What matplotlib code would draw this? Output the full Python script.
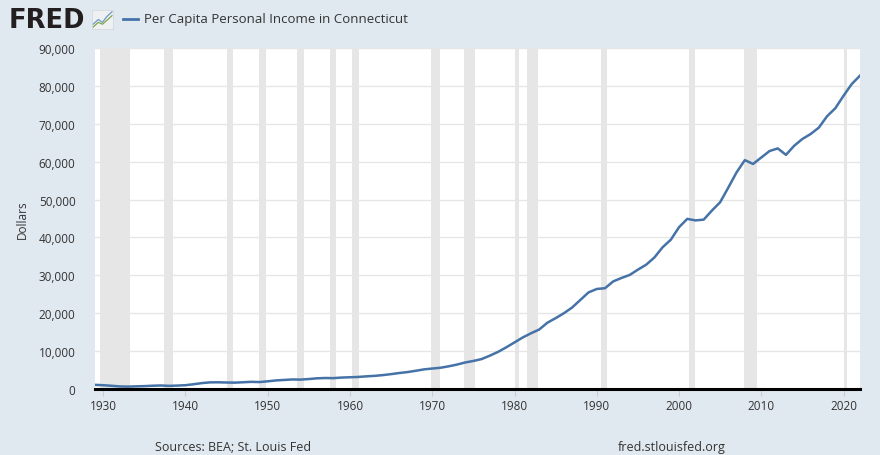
import numpy as np
import matplotlib
matplotlib.use('Agg')
import matplotlib.pyplot as plt

plt.rcParams['font.family'] = ['Open Sans', 'DejaVu Sans']

# ── Data ───────────────────────────────────────────────────────────
years = list(range(1929, 2023))
income = [
    1100, 1000, 850, 680, 630, 700, 760, 860, 930, 830,        # 1929-1938
    900, 1000, 1260, 1560, 1750, 1770, 1710, 1680, 1780, 1890,  # 1939-1948
    1830, 2030, 2260, 2390, 2520, 2480, 2630, 2820, 2900, 2870,  # 1949-1958
    3020, 3100, 3180, 3340, 3470, 3670, 3930, 4220, 4470, 4810,  # 1959-1968
    5180, 5400, 5610, 5990, 6440, 7000, 7400, 7900, 8800, 9800,  # 1969-1978
    11000, 12300, 13600, 14700, 15700, 17500, 18700, 20000, 21500, 23500,  # 1979-1988
    25500, 26400, 26600, 28400, 29300, 30100, 31500, 32800, 34700, 37400,  # 1989-1998
    39400, 42700, 44900, 44500, 44700, 47100, 49300, 53200, 57200, 60400,  # 1999-2008
    59400, 61100, 62800, 63500, 61800, 64200, 66000, 67300, 69000, 72000,  # 2009-2018
    74100, 77400, 80500, 82700,                                            # 2019-2022
]

# NBER recessions (decimal years)
rec_start = [1929.6, 1937.4, 1945.1, 1948.9, 1953.5, 1957.6, 1960.3, 1969.9,
             1973.9, 1980.0, 1981.5, 1990.5, 2001.2, 2007.9, 2020.1]
rec_end   = [1933.2, 1938.5, 1945.8, 1949.8, 1954.4, 1958.3, 1961.1, 1970.9,
             1975.2, 1980.5, 1982.9, 1991.2, 2001.9, 2009.5, 2020.4]

yticks = list(range(0, 90001, 10000))
xticks = list(range(1930, 2021, 10))

BG = '#e1e9f0'
LINE = '#4572a7'

# ── Plot ───────────────────────────────────────────────────────────
fig = plt.figure(figsize=(8.8, 4.56), dpi=100, facecolor=BG)
ax = fig.add_axes([95 / 880, 66 / 456, 765 / 880, 341 / 456])
ax.set_facecolor('white')

for s, e in zip(rec_start, rec_end):
    ax.axvspan(s, e, color='#e6e6e6', lw=0, zorder=1)

ax.plot(years, income, color=LINE, lw=1.8, zorder=4, solid_joinstyle='round')

ax.set_xlim(1929, 2022)
ax.set_ylim(0, 90000)
ax.set_yticks(yticks)
ax.set_yticklabels([f'{v:,}' for v in yticks])
ax.set_xticks(xticks)
ax.grid(axis='y', color='#e6e6e6', lw=1.0, zorder=0)
ax.set_axisbelow(True)

for side in ('top', 'right', 'left'):
    ax.spines[side].set_visible(False)
ax.spines['bottom'].set_color('black')
ax.spines['bottom'].set_linewidth(2.2)
ax.spines['bottom'].set_zorder(6)

ax.tick_params(axis='y', length=0, labelsize=8.5, labelcolor='#333333', pad=14)
ax.tick_params(axis='x', length=5, color='#cccccc', labelsize=8.5,
               labelcolor='#333333', pad=2)

fig.text(22 / 880, 1 - 220 / 456, 'Dollars', rotation=90, ha='center',
         va='center', fontsize=8.5, color='#333333')

# header: logo + legend
fig.text(9 / 880, 1 - 21 / 456, 'FRED', fontsize=18.5, fontweight='heavy',
         color='#231f20', ha='left', va='center', family=['DejaVu Sans'])
icon = fig.add_axes([92 / 880, 1 - 30 / 456, 21 / 880, 19 / 456])
icon.set_facecolor('#eef0f2')
icon.plot([0.05, 0.3, 0.5, 0.7, 0.95], [0.25, 0.5, 0.35, 0.65, 0.9],
          color='#6f9ac9', lw=0.9)
icon.plot([0.05, 0.3, 0.5, 0.7, 0.95], [0.1, 0.35, 0.25, 0.45, 0.7],
          color='#7fa84a', lw=0.9)
icon.set_xlim(0, 1)
icon.set_ylim(0, 1)
icon.set_xticks([])
icon.set_yticks([])
for sp in icon.spines.values():
    sp.set_edgecolor('#d0d6dc')
    sp.set_linewidth(0.5)

fig.lines.append(plt.Line2D([123 / 880, 138 / 880], [1 - 20 / 456, 1 - 20 / 456],
                            transform=fig.transFigure, color=LINE, lw=2))
fig.text(144 / 880, 1 - 20 / 456, 'Per Capita Personal Income in Connecticut',
         fontsize=9.5, color='#333333', ha='left', va='center')

# footer
fig.text(155 / 880, 1 - 448 / 456, 'Sources: BEA; St. Louis Fed', fontsize=9,
         color='#333333', ha='left', va='center')
fig.text(618 / 880, 1 - 448 / 456, 'fred.stlouisfed.org', fontsize=9,
         color='#333333', ha='left', va='center')

fig.savefig('out.png', dpi=100, facecolor=BG)
